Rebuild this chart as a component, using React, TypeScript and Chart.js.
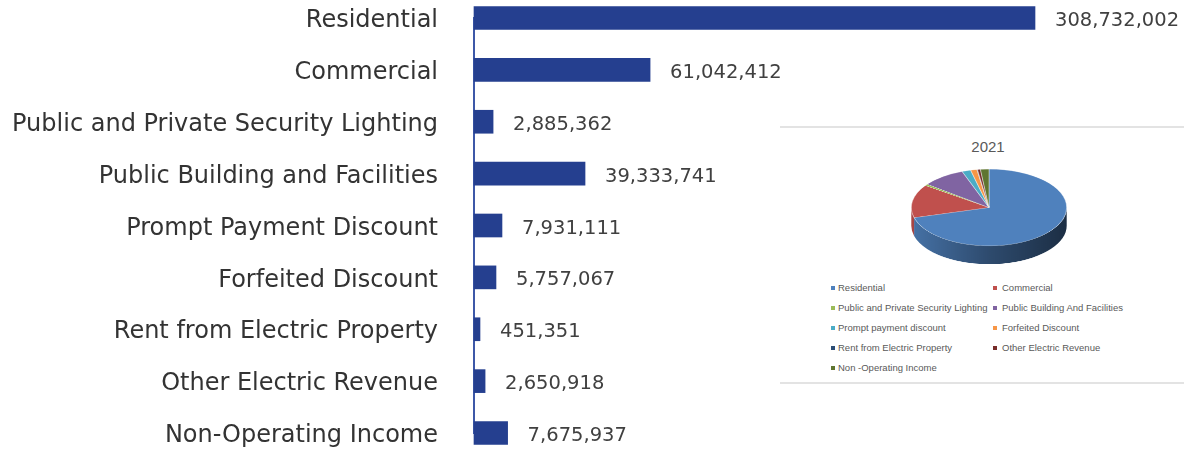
import React, { useEffect, useRef } from "react";
import { Chart, registerables } from "chart.js";

Chart.register(...registerables);

// Category labels of the horizontal bar chart
const categories = [
  "Residential",
  "Commercial",
  "Public and Private Security Lighting",
  "Public Building and Facilities",
  "Prompt Payment Discount",
  "Forfeited Discount",
  "Rent from Electric Property",
  "Other Electric Revenue",
  "Non-Operating Income",
];

// Values printed next to the bars (also the pie slices)
const printedValues = [
  308732002, 61042412, 2885362, 39333741, 7931111, 5757067, 451351, 2650918, 7675937,
];

// Bar lengths as drawn in the picture (same units)
const barLengths = [
  308732002, 96900000, 10500000, 61100000, 15400000, 12100000, 3300000, 6100000, 18500000,
];

const xAxisMax = 390730000;

// Inset pie
const pieTitle = "2021";
const pieLabels = [
  "Residential",
  "Commercial",
  "Public and Private Security Lighting",
  "Public Building And Facilities",
  "Prompt payment discount",
  "Forfeited Discount",
  "Rent from Electric Property",
  "Other Electric Revenue",
  "Non -Operating Income",
];
const pieColors = [
  "#4F81BD",
  "#C0504D",
  "#9BBB59",
  "#8064A2",
  "#4BACC6",
  "#F79646",
  "#2C4D75",
  "#772C2A",
  "#5F7530",
];

function shade(hex: string, f: number): string {
  const n = parseInt(hex.slice(1), 16);
  const r = Math.round(((n >> 16) & 255) * f);
  const g = Math.round(((n >> 8) & 255) * f);
  const b = Math.round((n & 255) * f);
  return `rgb(${r},${g},${b})`;
}

const fmt = (v: number) => v.toLocaleString("en-US");

export default function App() {
  const barRef = useRef<HTMLCanvasElement>(null);
  const pieRef = useRef<HTMLCanvasElement>(null);

  useEffect(() => {
    const valueLabelPlugin = {
      id: "valueLabels",
      afterDatasetsDraw(chart: any) {
        const ctx = chart.ctx;
        const meta = chart.getDatasetMeta(0);
        ctx.save();
        ctx.font = "19.5px 'DejaVu Sans'";
        ctx.fillStyle = "#404040";
        ctx.textAlign = "left";
        ctx.textBaseline = "middle";
        meta.data.forEach((bar: any, i: number) => {
          ctx.fillText(fmt(printedValues[i]), bar.x + 20, bar.y + 3);
        });
        ctx.restore();
      },
    };

    const chart = new Chart(barRef.current as HTMLCanvasElement, {
      type: "bar",
      data: {
        labels: categories,
        datasets: [
          {
            data: barLengths,
            backgroundColor: "#253F8F",
            borderWidth: 0,
            barThickness: 23,
            clip: false as any,
          },
        ],
      },
      options: {
        indexAxis: "y",
        responsive: false,
        animation: false,
        devicePixelRatio: 1,
        layout: { padding: { top: 18, bottom: 18, left: 0, right: 0 } },
        plugins: { legend: { display: false }, tooltip: { enabled: false } },
        scales: {
          x: { display: false, min: 0, max: xAxisMax },
          y: {
            offset: false,
            grid: { display: true, color: "transparent", drawTicks: false },
            border: { display: true, color: "#3D58A8", width: 2 },
            ticks: {
              autoSkip: false,
              padding: 36,
              labelOffset: 3,
              color: "#333333",
              font: { family: "'DejaVu Sans'", size: 24 },
            },
            afterFit: (s: any) => {
              s.width = 474;
              s.paddingTop = 0;
              s.paddingBottom = 0;
            },
          },
        },
      },
      plugins: [valueLabelPlugin],
    } as any);

    const depth = 37;
    const sidePlugin = {
      id: "pieSide",
      beforeDatasetsDraw(c: any) {
        const ctx = c.ctx;
        const meta = c.getDatasetMeta(0);
        meta.data.forEach((arc: any, i: number) => {
          const { x, y, startAngle, endAngle, outerRadius } = arc.getProps(
            ["x", "y", "startAngle", "endAngle", "outerRadius"],
            true
          );
          const s = Math.max(startAngle, 0);
          const e = Math.min(endAngle, Math.PI);
          if (e <= s) return;
          const g = ctx.createLinearGradient(x - outerRadius, 0, x + outerRadius, 0);
          g.addColorStop(0, shade(pieColors[i], 0.88));
          g.addColorStop(0.5, shade(pieColors[i], 0.58));
          g.addColorStop(1, shade(pieColors[i], 0.36));
          ctx.save();
          ctx.beginPath();
          ctx.arc(x, y, outerRadius, s, e);
          ctx.arc(x, y + depth, outerRadius, e, s, true);
          ctx.closePath();
          ctx.fillStyle = g;
          ctx.fill();
          ctx.restore();
        });
      },
    };

    const pie = new Chart(pieRef.current as HTMLCanvasElement, {
      type: "pie",
      data: {
        labels: pieLabels,
        datasets: [
          {
            data: printedValues,
            backgroundColor: pieColors,
            borderColor: "rgba(255,255,255,0.7)",
            borderWidth: 0.6,
          },
        ],
      },
      options: {
        responsive: false,
        animation: false,
        devicePixelRatio: 1,
        layout: { padding: { top: 0, left: 0, right: 0, bottom: depth } },
        plugins: { legend: { display: false }, tooltip: { enabled: false } },
      },
      plugins: [sidePlugin],
    } as any);

    return () => {
      chart.destroy();
      pie.destroy();
    };
  }, []);

  return (
    <div
      style={{
        position: "fixed",
        left: 0,
        top: 0,
        width: 1184,
        height: 451,
        overflow: "hidden",
        background: "#ffffff",
      }}
    >
      <canvas
        ref={barRef}
        width={1184}
        height={451}
        style={{ position: "absolute", left: 0, top: 0 }}
      />
      <div
        style={{
          position: "absolute",
          left: 780,
          top: 126,
          width: 420,
          height: 254,
          borderTop: "2px solid #e3e3e3",
          borderBottom: "2px solid #e3e3e3",
          background: "#ffffff",
        }}
      />
      <div
        style={{
          position: "absolute",
          left: 938,
          top: 138,
          width: 100,
          textAlign: "center",
          font: "15px 'Liberation Sans'",
          lineHeight: "18px",
          color: "#595959",
        }}
      >
        {pieTitle}
      </div>
      <canvas
        ref={pieRef}
        width={156}
        height={193}
        style={{
          position: "absolute",
          left: 911,
          top: 168.5,
          transform: "scaleY(0.4936)",
          transformOrigin: "0 0",
        }}
      />
      {pieLabels.map((label, i) => {
        const col = i % 2;
        const row = Math.floor(i / 2);
        const cy = 288 + row * 20;
        return (
          <React.Fragment key={label}>
            <div
              style={{
                position: "absolute",
                left: col ? 993 : 831,
                top: cy - 2,
                width: 4,
                height: 4,
                background: pieColors[i],
              }}
            />
            <div
              style={{
                position: "absolute",
                left: col ? 1002 : 838,
                top: cy - 6,
                fontFamily: "'Liberation Sans'",
                fontSize: "9.5px",
                lineHeight: "12px",
                color: "#595959",
                whiteSpace: "nowrap",
              }}
            >
              {label}
            </div>
          </React.Fragment>
        );
      })}
    </div>
  );
}
